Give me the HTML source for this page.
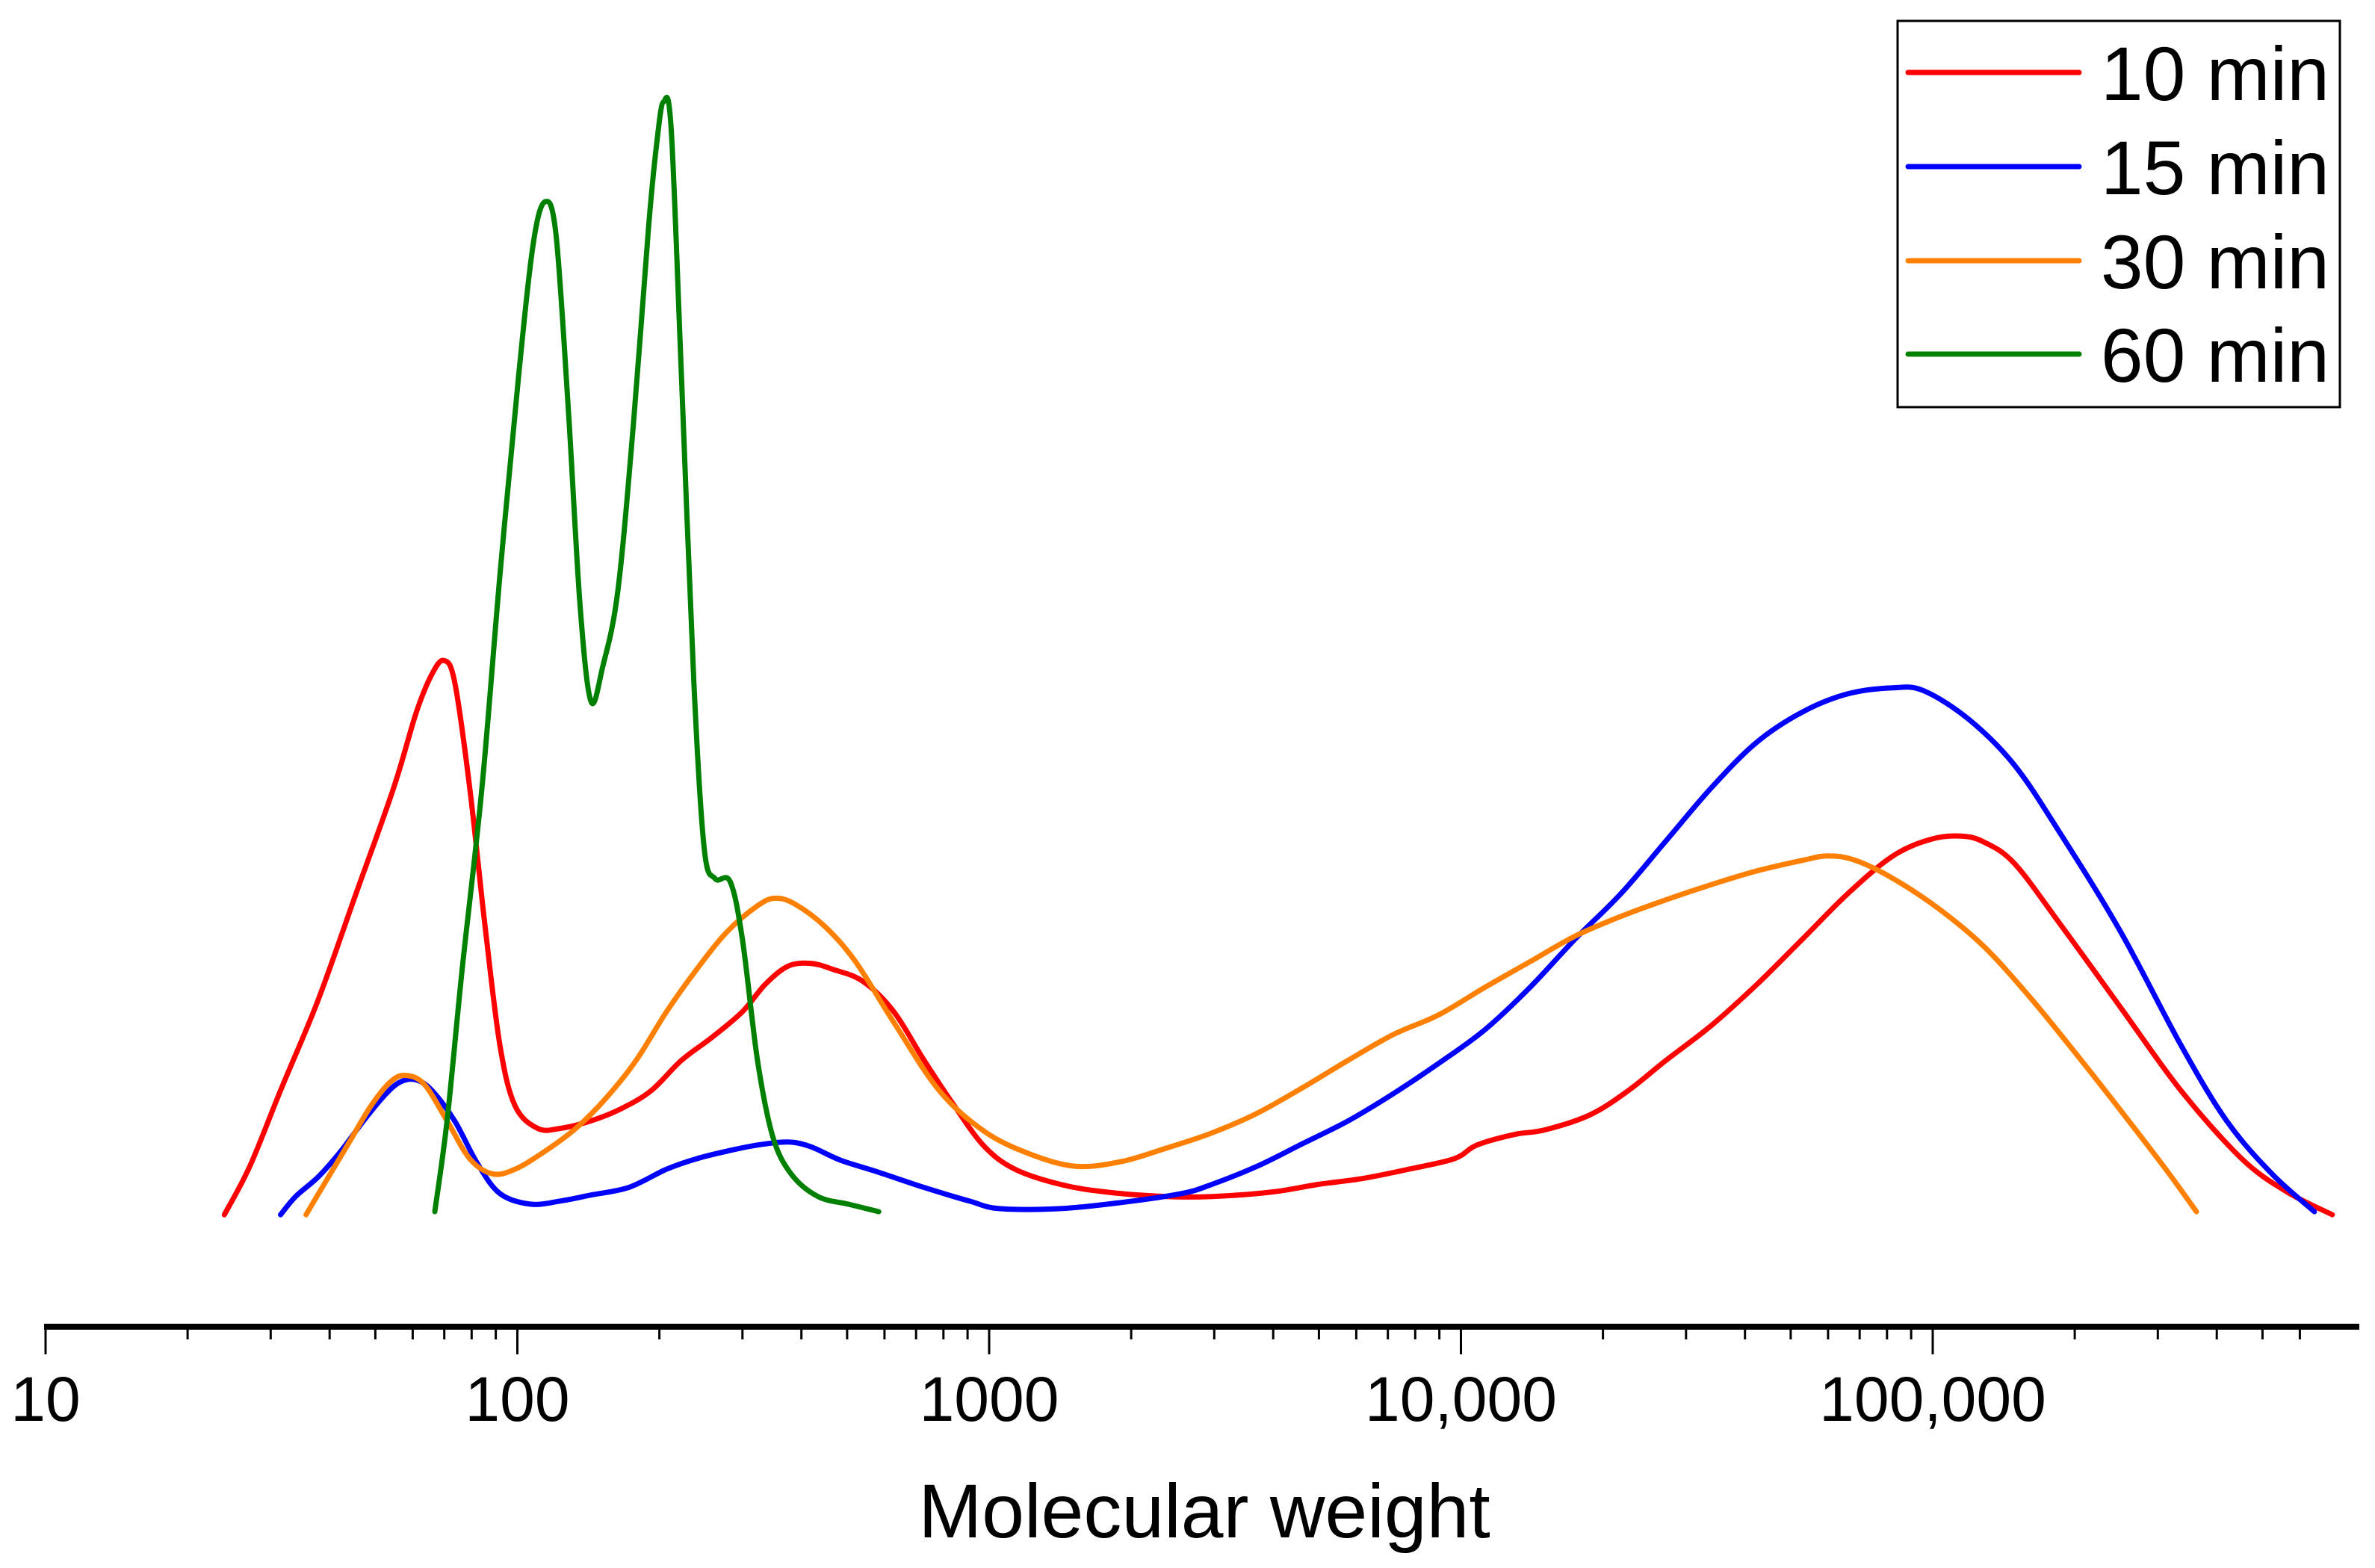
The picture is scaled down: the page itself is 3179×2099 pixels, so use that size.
<!DOCTYPE html>
<html><head><meta charset="utf-8"><style>
html,body{margin:0;padding:0;background:#fff}
svg{display:block}
text{font-family:"Liberation Sans",Arial,sans-serif;fill:#000}
</style></head><body>
<svg id="chart" width="3179" height="2099" viewBox="0 0 3179 2099" xmlns="http://www.w3.org/2000/svg">
<g id="axis"></g>
<g id="series"></g>
<text x="1612" y="2058" font-size="102" text-anchor="middle">Molecular weight</text>
<g id="legend">
<rect x="2540" y="28" width="592" height="517" fill="#fff" stroke="#000" stroke-width="3"/>
</g>
</svg>
<script>
const tickLabels = ["10","100","1000","10,000","100,000"];
const tickLogs = [1,2,3,4,5];
const seriesNames = ["10 min","15 min","30 min","60 min"];
const seriesColors = ["#ff0000","#0000ff","#ff8000","#008000"];

const redLog = [1.379,1.433,1.498,1.578,1.658,1.738,1.786,1.819,1.844,1.867,1.899,1.931,1.963,1.995,2.043,2.091,2.156,2.220,2.284,2.348,2.412,2.477,2.525,2.573,2.621,2.669,2.733,2.798,2.862,2.926,2.990,3.055,3.151,3.247,3.376,3.472,3.600,3.697,3.793,3.889,3.986,4.034,4.114,4.178,4.274,4.355,4.435,4.531,4.627,4.724,4.820,4.916,4.997,5.061,5.109,5.173,5.270,5.398,5.526,5.655,5.751,5.847];
const redVal = [-2,30,80,140,210,280,330,355,364,350,280,190,110,70,55,55,60,68,80,100,115,132,150,162,164,160,152,132,100,70,43,28,18,13,10,10,13,18,22,28,35,44,51,54,64,80,100,123,150,180,210,235,246,248,244,230,190,135,80,35,13,-2];

const blueLog = [1.498,1.530,1.578,1.626,1.674,1.722,1.754,1.786,1.819,1.867,1.915,1.963,2.027,2.091,2.156,2.236,2.316,2.380,2.445,2.509,2.573,2.621,2.685,2.766,2.862,2.958,3.022,3.151,3.279,3.408,3.472,3.568,3.665,3.761,3.857,3.953,4.050,4.146,4.242,4.339,4.435,4.531,4.627,4.724,4.820,4.916,4.981,5.077,5.173,5.270,5.398,5.526,5.623,5.719,5.809];
const blueVal = [-2,10,23,40,60,78,86,87,80,60,32,12,5,7,11,16,28,35,40,44,46,43,34,26,16,7,2,2,6,12,18,30,45,60,78,98,120,148,180,210,245,280,310,330,342,346,344,325,295,250,185,110,60,25,0];

const orangeLog = [1.552,1.594,1.642,1.690,1.732,1.764,1.803,1.851,1.899,1.947,1.995,2.059,2.124,2.188,2.252,2.316,2.380,2.445,2.509,2.547,2.589,2.653,2.717,2.798,2.894,2.990,3.087,3.183,3.279,3.376,3.472,3.568,3.665,3.761,3.857,3.953,4.050,4.146,4.242,4.339,4.435,4.531,4.627,4.724,4.778,4.836,4.916,5.013,5.109,5.205,5.302,5.398,5.494,5.559];
const orangeVal = [-2,20,45,70,86,90,84,60,35,25,28,40,55,75,100,132,160,185,202,207,203,188,165,125,80,53,38,30,33,42,52,65,82,100,117,130,148,165,182,195,206,216,225,232,235,232,220,200,175,142,105,67,28,0];

const greenLog = [1.825,1.851,1.883,1.925,1.963,2.002,2.034,2.059,2.082,2.108,2.133,2.156,2.181,2.213,2.246,2.278,2.297,2.310,2.326,2.348,2.374,2.396,2.419,2.451,2.477,2.509,2.541,2.580,2.637,2.701,2.766];
const greenVal = [0,60,160,280,420,550,640,667,645,530,400,337,360,410,520,650,710,733,715,550,350,240,220,218,180,100,50,25,10,5,0];

const NS = "http://www.w3.org/2000/svg";
function xScale(l){ return 61 + (l - 1) * 631.5; }
function yScale(v){ return 1622 - v * 2.027; }

const axis = document.getElementById('axis');
const line = document.createElementNS(NS,'line');
line.setAttribute('x1',59);line.setAttribute('x2',3158);line.setAttribute('y1',1776);line.setAttribute('y2',1776);
line.setAttribute('stroke','#000');line.setAttribute('stroke-width',8);


axis.appendChild(line);
for(let d=1; d<=5.82; d++){
  for(let m=1;m<=9;m++){
    const l = d + Math.log10(m);
    if(l>5.81) break;
    const t = document.createElementNS(NS,'line');
    const x = xScale(l);
    t.setAttribute('x1',x);t.setAttribute('x2',x);t.setAttribute('y1',1776);
    t.setAttribute('y2', m===1?1813:1793);
    t.setAttribute('stroke','#000');t.setAttribute('stroke-width',3);
    
    
    axis.appendChild(t);
  }
}
tickLabels.forEach((lab,i)=>{
  const t = document.createElementNS(NS,'text');
  t.setAttribute('x', xScale(tickLogs[i]));
  t.setAttribute('y', 1902);
  t.setAttribute('font-size', 84);
  t.setAttribute('text-anchor','middle');
  t.textContent = lab;
  
  
  axis.appendChild(t);
});

function smoothPath(pts){
  let d = 'M' + pts[0][0].toFixed(1) + ',' + pts[0][1].toFixed(1);
  for(let i=0;i<pts.length-1;i++){
    const p0 = pts[Math.max(0,i-1)], p1 = pts[i], p2 = pts[i+1], p3 = pts[Math.min(pts.length-1,i+2)];
    const c1x = p1[0] + (p2[0]-p0[0])/6, c1y = p1[1] + (p2[1]-p0[1])/6;
    const c2x = p2[0] - (p3[0]-p1[0])/6, c2y = p2[1] - (p3[1]-p1[1])/6;
    d += 'C' + c1x.toFixed(1)+','+c1y.toFixed(1)+' '+c2x.toFixed(1)+','+c2y.toFixed(1)+' '+p2[0].toFixed(1)+','+p2[1].toFixed(1);
  }
  return d;
}

const series = document.getElementById('series');
const allLogs = [redLog, blueLog, orangeLog, greenLog];
const allVals = [redVal, blueVal, orangeVal, greenVal];
const lineNames = ['line-10-min','line-15-min','line-30-min','line-60-min'];
allLogs.forEach((xs,i)=>{
  const vs = allVals[i];
  const pts = xs.map((l,j)=>[xScale(l), yScale(vs[j])]);
  const p = document.createElementNS(NS,'path');
  p.setAttribute('d', smoothPath(pts));
  p.setAttribute('fill','none');
  p.setAttribute('stroke', seriesColors[i]);
  p.setAttribute('stroke-width', 7);
  p.setAttribute('stroke-linejoin','round');
  p.setAttribute('stroke-linecap','round');
  
  
  series.appendChild(p);
});

const legend = document.getElementById('legend');
const rowsY = [97, 223, 349, 474];
seriesNames.forEach((n,i)=>{
  const g = document.createElementNS(NS,'g');
  
  
  const l = document.createElementNS(NS,'line');
  l.setAttribute('x1',2554);l.setAttribute('x2',2783);l.setAttribute('y1',rowsY[i]);l.setAttribute('y2',rowsY[i]);
  l.setAttribute('stroke',seriesColors[i]);l.setAttribute('stroke-width',7);l.setAttribute('stroke-linecap','round');
  
  
  g.appendChild(l);
  const t = document.createElementNS(NS,'text');
  t.setAttribute('x',3118);t.setAttribute('y',rowsY[i]+37);
  t.setAttribute('font-size',102);t.setAttribute('text-anchor','end');
  t.textContent = n;
  
  
  g.appendChild(t);
  legend.appendChild(g);
});
</script>
</body></html>
